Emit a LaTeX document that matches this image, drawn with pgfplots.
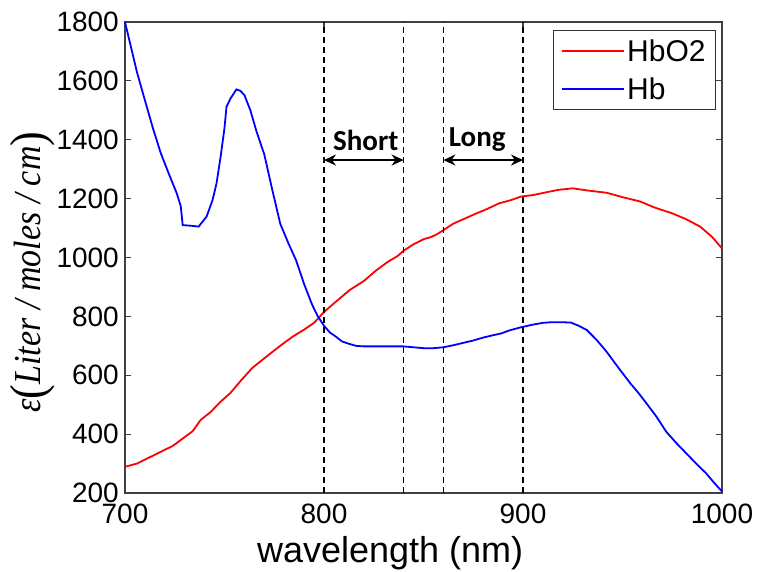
\documentclass[border=0pt]{standalone}
\usepackage{fontspec}
\setmainfont{Liberation Sans}
\newfontfamily\calibri{Carlito}
\newfontfamily\timesit{Liberation Serif}[ItalicFont=*,UprightFont=* Italic]
\newfontfamily\timesup{Liberation Serif}
\usepackage{pgfplots}
\pgfplotsset{compat=1.18}
\usetikzlibrary{arrows.meta}

\begin{document}
\begin{tikzpicture}
\begin{axis}[
  width=597pt, height=471pt, scale only axis,
  xmin=700, xmax=1000, ymin=200, ymax=1800,
  xtick={700,800,900,1000},
  ytick={200,400,...,1800},
  scaled ticks=false,
  /pgf/number format/1000 sep={},
  /pgf/number format/assume math mode=true,
  tick align=inside,
  major tick length=6pt,
  axis line style={black!75, line width=1.1pt},
  every tick/.style={black!75, line width=1.1pt},
  tick label style={font=\fontsize{28}{30}\selectfont, inner sep=0pt},
  yticklabel style={xshift=-6pt},
  xticklabel style={yshift=-11pt},
  xlabel={wavelength (nm)},
  xlabel style={font=\fontsize{36}{40}\selectfont, at={(axis description cs:0.444,0)}, anchor=base, yshift=-70pt},
  ylabel={\scalebox{1}[1.12]{\timesit ε\raisebox{-0.12em}{\timesup\fontsize{44}{44}\selectfont(}Liter / moles / cm\raisebox{-0.12em}{\timesup\fontsize{44}{44}\selectfont)}}},
  ylabel style={font=\fontsize{34}{36}\selectfont, at={(axis description cs:0,0.469)}, anchor=center, yshift=92pt},
  legend style={at={(0.990,0.983)}, anchor=north east, font=\fontsize{30}{32}\selectfont,
    draw=black!80, line width=1pt, inner xsep=8pt, inner ysep=7pt, row sep=11pt},
  legend cell align=left,
  legend image code/.code={\draw[#1] (0pt,0pt) -- (57pt,0pt); \path (0pt,0pt) -- (62pt,0pt);},
  clip=false,
]
\addplot[red, line width=1.8pt] coordinates {
(700,289) (706,300) (712,320) (718,340) (724,360) (728,380) (734,410) (738,448)
(743,475) (748,510) (753,540) (758,580) (764,625) (771,663) (778,700) (784,730)
(790,755) (795,778) (800,815) (806,850) (813,890) (820,920) (826,955) (832,985)
(837,1005) (840,1023) (845,1045) (850,1062) (854,1070) (857,1080) (860,1093)
(865,1115) (870,1130) (876,1148) (882,1165) (888,1184) (894,1195) (899,1207)
(905,1212) (912,1222) (918,1230) (925,1235) (932,1228) (942,1220) (950,1205)
(959,1190) (966,1170) (975,1150) (982,1130) (989,1105) (995,1070) (1000,1031)
};
\addlegendentry{HbO2}
\addplot[blue, line width=1.8pt] coordinates {
(700,1800) (703,1715) (706,1630) (709,1558) (714,1440) (718,1354) (722,1285)
(726,1218) (728,1175) (729,1110) (733,1108) (737,1105) (741,1139) (744,1195)
(746,1252) (748,1340) (750,1440) (751,1512) (753,1540) (756,1571) (758,1566)
(760,1552) (763,1500) (766,1430) (770,1350) (774,1230) (778,1115) (782,1050)
(786,990) (790,910) (794,840) (797,799) (800,768) (803,745) (806,731) (809,715)
(812,708) (816,700) (820,698) (830,698) (840,698) (845,695) (850,692) (855,692)
(860,695) (865,702) (870,710) (875,718) (880,728) (885,736) (889,742) (893,752)
(899,763) (905,772) (910,778) (914,780) (920,780) (924,779) (928,768) (932,754)
(937,720) (942,680) (948,625) (954,572) (958,540) (962,505) (967,460) (972,408)
(977,370) (982,335) (987,300) (992,267) (996,235) (1000,205)
};
\addlegendentry{Hb}
\addplot[black, line width=1.7pt, dash pattern=on 6pt off 4pt, forget plot] coordinates {(800,200) (800,1800)};
\addplot[black, line width=1.7pt, dash pattern=on 6pt off 4pt, forget plot] coordinates {(840,200) (840,1800)};
\addplot[black, line width=1.7pt, dash pattern=on 6pt off 4pt, forget plot] coordinates {(860,200) (860,1800)};
\addplot[black, line width=1.7pt, dash pattern=on 6pt off 4pt, forget plot] coordinates {(900,200) (900,1800)};
\draw[{Stealth[length=12pt,width=11pt]}-{Stealth[length=12pt,width=11pt]}, line width=1.8pt]
  (axis cs:800,1331) -- (axis cs:840,1331);
\draw[{Stealth[length=12pt,width=11pt]}-{Stealth[length=12pt,width=11pt]}, line width=1.8pt]
  (axis cs:860,1331) -- (axis cs:900,1331);
\node[font=\calibri\bfseries\fontsize{29}{30}\selectfont] at (axis cs:821,1399) {Short};
\node[font=\calibri\bfseries\fontsize{29}{30}\selectfont] at (axis cs:877,1399) {Long};
\end{axis}
\pgfresetboundingbox
\path ([shift={(-125pt,-79pt)}]current axis.south west) rectangle ([shift={(35pt,22pt)}]current axis.north east);
\end{tikzpicture}
\end{document}
